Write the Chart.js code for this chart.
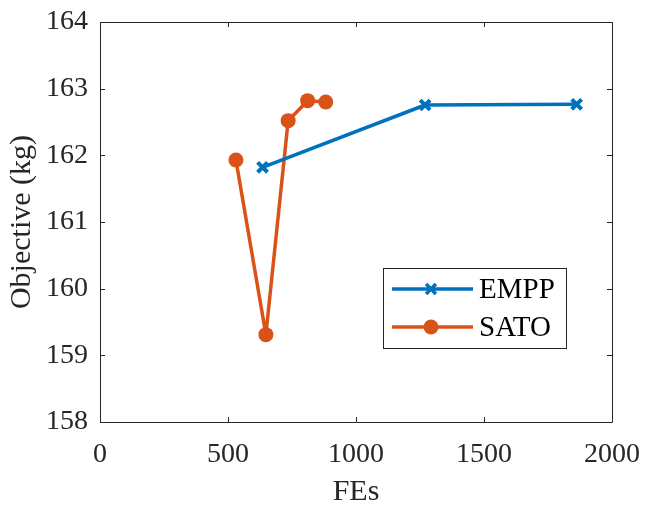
<!DOCTYPE html>
<html>
<head>
<meta charset="utf-8">
<script src="https://cdn.jsdelivr.net/npm/chart.js@4"></script>
<style>
  html, body { margin: 0; padding: 0; background: #fff; }
  #wrap { width: 646px; height: 505px; }
</style>
</head>
<body>
<div id="wrap"><canvas id="chart" width="646" height="505"></canvas></div>
<script>
// function evaluations vs objective for both methods
const emppFEs = [635, 1270, 1862];
const emppObj = [161.82, 162.755, 162.765];
const satoFEs = [531, 648, 735, 811, 882];
const satoObj = [161.93, 159.31, 162.52, 162.82, 162.80];

const xTicks = [0, 500, 1000, 1500, 2000];
const yTicks = [158, 159, 160, 161, 162, 163, 164];

const BLUE = '#0072BD';
const ORANGE = '#D95319';
const FONT = '"Liberation Serif", "Times New Roman", serif';

// box around the axes, with inward ticks on all four sides
const boxPlugin = {
  id: 'boxPlugin',
  afterDraw(chart) {
    const ctx = chart.ctx;
    const a = chart.chartArea;
    const xs = chart.scales.x, ys = chart.scales.y;
    const len = 5;
    ctx.save();
    ctx.strokeStyle = '#262626';
    ctx.lineWidth = 1;
    ctx.beginPath();
    ctx.rect(a.left + 0.5, a.top + 0.5, a.right - a.left, a.bottom - a.top);
    xTicks.forEach(v => {
      const x = Math.round(xs.getPixelForValue(v)) + 0.5;
      ctx.moveTo(x, a.bottom); ctx.lineTo(x, a.bottom - len);
      ctx.moveTo(x, a.top); ctx.lineTo(x, a.top + len);
    });
    yTicks.forEach(v => {
      const y = Math.round(ys.getPixelForValue(v)) + 0.5;
      ctx.moveTo(a.left, y); ctx.lineTo(a.left + len, y);
      ctx.moveTo(a.right, y); ctx.lineTo(a.right - len, y);
    });
    ctx.stroke();
    ctx.restore();
  }
};

// legend box in the lower right of the plot
const legendPlugin = {
  id: 'legendPlugin',
  afterDraw(chart) {
    const ctx = chart.ctx;
    const bx = 383, by = 268, bw = 183, bh = 80;
    ctx.save();
    ctx.fillStyle = '#fff';
    ctx.fillRect(bx, by, bw, bh);
    ctx.strokeStyle = '#262626';
    ctx.lineWidth = 1;
    ctx.strokeRect(bx + 0.5, by + 0.5, bw, bh);
    chart.data.datasets.forEach((ds, i) => {
      const y = by + 21 + i * 38;
      ctx.strokeStyle = ds.borderColor;
      ctx.fillStyle = ds.borderColor;
      ctx.lineWidth = ds.borderWidth;
      ctx.beginPath();
      ctx.moveTo(bx + 9, y);
      ctx.lineTo(bx + 90, y);
      ctx.stroke();
      Chart.helpers.drawPoint(ctx, {
        pointStyle: ds.pointStyle,
        radius: ds.pointRadius,
        borderWidth: ds.pointBorderWidth
      }, bx + 48, y);
      ctx.fillStyle = '#000';
      ctx.font = '29px ' + FONT;
      ctx.textBaseline = 'middle';
      ctx.textAlign = 'left';
      ctx.fillText(ds.label, bx + 96, y + 1);
    });
    ctx.restore();
  }
};

const ctx = document.getElementById('chart').getContext('2d');
new Chart(ctx, {
  type: 'line',
  data: {
    datasets: [{
      label: 'EMPP',
      data: emppFEs.map((x, i) => ({ x: x, y: emppObj[i] })),
      borderColor: BLUE,
      backgroundColor: BLUE,
      borderWidth: 3.5,
      borderJoinStyle: 'round',
      pointStyle: 'crossRot',
      pointRadius: 7,
      pointBorderWidth: 4,
      pointBorderColor: BLUE,
      tension: 0
    }, {
      label: 'SATO',
      data: satoFEs.map((x, i) => ({ x: x, y: satoObj[i] })),
      borderColor: ORANGE,
      backgroundColor: ORANGE,
      borderWidth: 3.5,
      borderJoinStyle: 'round',
      pointStyle: 'circle',
      pointRadius: 7.5,
      pointBorderWidth: 0,
      pointBackgroundColor: ORANGE,
      tension: 0
    }]
  },
  options: {
    responsive: false,
    animation: false,
    layout: { padding: { top: 22, right: 34, left: 0, bottom: 0 } },
    plugins: {
      legend: { display: false },
      tooltip: { enabled: false }
    },
    scales: {
      x: {
        type: 'linear',
        min: 0,
        max: 2000,
        afterBuildTicks: s => { s.ticks = xTicks.map(v => ({ value: v })); },
        afterFit: s => { s.height = 83; s.paddingLeft = 0; s.paddingRight = 0; },
        grid: { display: false, drawTicks: false },
        border: { display: false },
        ticks: {
          color: '#262626',
          padding: 16,
          maxRotation: 0,
          callback: v => String(v),
          font: { family: FONT, size: 28 }
        },
        title: {
          display: true,
          text: 'FEs',
          color: '#262626',
          padding: { top: 0, bottom: -2 },
          font: { family: FONT, size: 30, lineHeight: 1 }
        }
      },
      y: {
        type: 'linear',
        min: 158,
        max: 164,
        afterBuildTicks: s => { s.ticks = yTicks.map(v => ({ value: v })); },
        afterFit: s => { s.width = 100; s.paddingTop = 0; s.paddingBottom = 0; },
        grid: { display: false, drawTicks: false },
        border: { display: false },
        ticks: {
          color: '#262626',
          padding: 12,
          font: { family: FONT, size: 28 }
        },
        title: {
          display: true,
          text: 'Objective (kg)',
          color: '#262626',
          padding: { top: 7, bottom: 0 },
          font: { family: FONT, size: 30, lineHeight: 1 }
        }
      }
    }
  },
  plugins: [boxPlugin, legendPlugin]
});
</script>
</body>
</html>
